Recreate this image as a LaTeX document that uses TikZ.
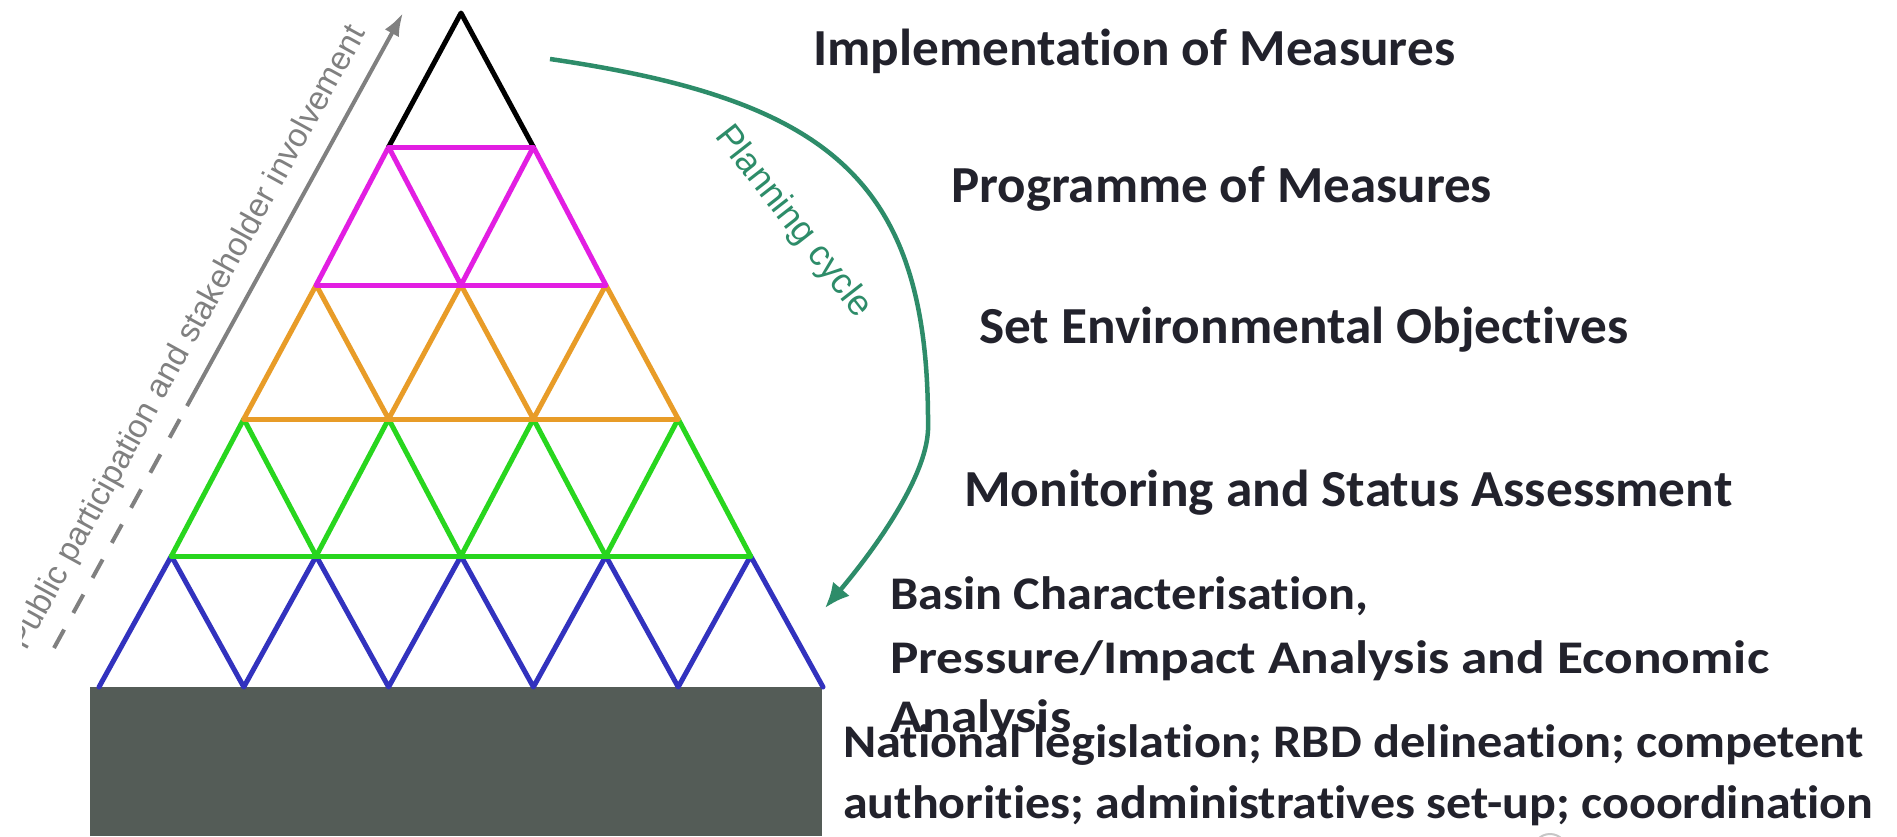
\documentclass[tikz,border=0pt]{standalone}
\usepackage{fontspec}
\usepackage{graphicx}
\setmainfont{Carlito}[Ligatures=NoCommon]
\newfontfamily\lsans{Liberation Sans}
\usetikzlibrary{arrows.meta}
\definecolor{txt}{RGB}{34,34,44}
\definecolor{mag}{RGB}{226,30,226}
\definecolor{org}{RGB}{232,156,40}
\definecolor{grn}{RGB}{40,214,30}
\definecolor{blu}{RGB}{50,50,190}
\definecolor{cyc}{RGB}{45,140,105}
\definecolor{gry}{RGB}{128,128,128}
\definecolor{base}{RGB}{84,92,87}
\tikzset{
  lbl/.style={anchor=base west, inner sep=0pt, text=txt, font=\fontsize{52}{62}\selectfont\bfseries},
  edge/.style={line width=5pt, line join=round, line cap=round},
}
\newcommand{\fitw}[2]{\resizebox{#1}{\height}{#2}}
\newcommand{\fitl}[2]{\resizebox{#1}{0.9\height}{#2}}
\begin{document}
\begin{tikzpicture}[x=1pt,y=-1pt]
\useasboundingbox (0,0) rectangle (1897,836);
\fill[white] (0,0) rectangle (1897,836);
% grid points
\foreach \k/\yy in {0/13,1/147,2/285,3/419,4/556,5/687}{
  \foreach \j in {0,...,\k}{
    \coordinate (p\k\j) at ({461+72.4*(2*\j-\k)},\yy);
  }
}
% base block
\fill[base] (90,687) rectangle (822,836);
% zigzags
\draw[edge,blu] (p50)--(p40)--(p51)--(p41)--(p52)--(p42)--(p53)--(p43)--(p54)--(p44)--(p55);
\draw[edge,grn] (p40)--(p30)--(p41)--(p31)--(p42)--(p32)--(p43)--(p33)--(p44);
\draw[edge,org] (p30)--(p20)--(p31)--(p21)--(p32)--(p22)--(p33);
\draw[edge,mag] (p20)--(p10)--(p21)--(p11)--(p22);
\draw[edge,black] (p10)--(p00)--(p11);
% horizontals
\draw[edge,grn] (p40)--(p44);
\draw[edge,org] (p30)--(p33);
\draw[edge,mag] (p20)--(p22);
\draw[edge,mag] (p10)--(p11);
% participation arrow
\coordinate (pa0) at (54,648);
\coordinate (pa1) at (187,406);
\coordinate (pa2) at (403,13);
\draw[gry, line width=4pt, dash pattern=on 21pt off 19pt] (pa0) -- (pa1);
\draw[gry, line width=4pt, -{Latex[length=23pt,width=16pt]}] (pa1) -- (pa2);
\begin{scope}
\clip (22,0) rectangle (1897,836);
\node[anchor=base east, inner sep=0pt, rotate=61.2, text=gry, font=\lsans\fontsize{33}{38}\selectfont] (part) at (366.5,32.6) {Public participation and stakeholder involvement};
\end{scope}
% planning cycle
\coordinate (c0) at (550,59);
\coordinate (c1) at (928,430);
\coordinate (c2) at (825,608);
\draw[cyc, line width=4.5pt, -{Latex[length=25pt,width=22pt]}] (c0) .. controls (830,100) and (930,180) .. (c1) .. controls (926,480) and (870,555) .. (c2);
\node[inner sep=0pt, rotate=-52, text=cyc, font=\lsans\fontsize{36}{42}\selectfont] (pc) at (793,222) {Planning cycle};
% labels
\node[lbl] (t1) at (813,65) {\fitw{642pt}{Implementation of Measures}};
\node[lbl] (t2) at (951,202) {\fitw{541pt}{Programme of Measures}};
\node[lbl] (t3) at (979,343) {\fitw{649pt}{Set Environmental Objectives}};
\node[lbl] (t4) at (964,506) {\fitw{768pt}{Monitoring and Status Assessment}};
\node[lbl] (t5) at (890,609) {\fitl{478pt}{Basin Characterisation,}};
\node[lbl] (t6) at (890,673) {\fitl{879pt}{Pressure/Impact Analysis and Economic}};
\node[lbl] (t7) at (890,732) {\fitl{181pt}{Analysis}};
\node[lbl] (t8) at (843,757) {\fitl{1020pt}{National legislation; RBD delineation; competent}};
\node[lbl] (t9) at (843,818) {\fitl{1030pt}{authorities; administratives set-up; cooordination}};
% small arc fragment at bottom
\draw[gray!45, line width=2pt] (1550,851) circle (17);
\end{tikzpicture}
\end{document}
